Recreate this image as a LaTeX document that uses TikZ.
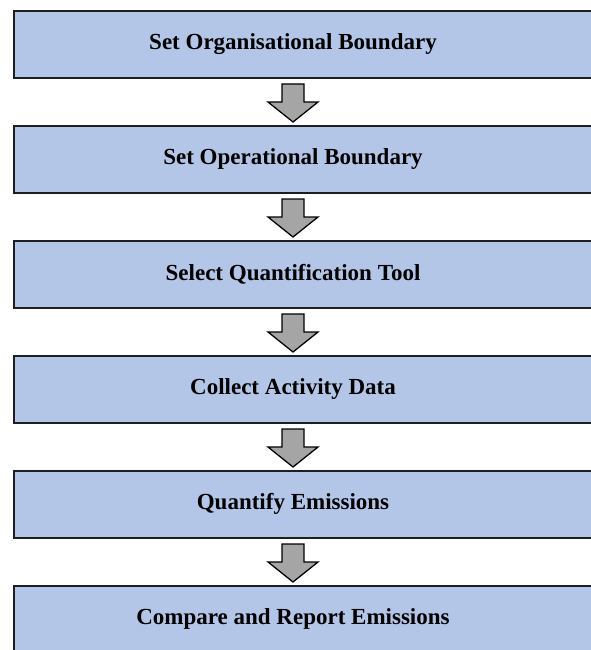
\documentclass[tikz,border=0pt]{standalone}
\usepackage{fontspec}
\setmainfont{Liberation Serif}
\usetikzlibrary{calc}
\definecolor{boxblue}{HTML}{B4C6E7}
\definecolor{arrowgray}{HTML}{A5A5A5}
\definecolor{edgecol}{HTML}{1E1E1E}
\begin{document}
\begin{tikzpicture}[x=1pt,y=-1pt,
  stepbox/.style={draw=edgecol, line width=2pt, fill=boxblue, rectangle,
    minimum width=600pt, minimum height=67pt, anchor=north west, inner sep=0pt},
  lbl/.style={font=\fontsize{23}{27}\selectfont\bfseries, text=black, inner sep=0pt},
  flowarrow/.pic={\draw[draw=black, line width=1.3pt, fill=arrowgray, line join=miter]
    (-11,5) -- (11,5) -- (11,23) -- (25,23) -- (0,43) -- (-25,23) -- (-11,23) -- cycle;}
]
\useasboundingbox (0,0) rectangle (590,650);
\node[stepbox] (b1) at (13,10) {};
\node[stepbox] (b2) at (13,125) {};
\node[stepbox] (b3) at (13,240) {};
\node[stepbox] (b4) at (13,355) {};
\node[stepbox] (b5) at (13,470) {};
\node[stepbox] (b6) at (13,585) {};
\node[lbl] (t1) at (293,44) {Set Organisational Boundary};
\node[lbl] (t2) at (293,159) {Set Operational Boundary};
\node[lbl] (t3) at (293,274) {Select Quantification Tool};
\node[lbl] (t4) at (293,389) {Collect Activity Data};
\node[lbl] (t5) at (293,504) {Quantify Emissions};
\node[lbl] (t6) at (293,619) {Compare and Report Emissions};
\pic at (b1.south -| t1.center) {flowarrow};
\pic at (b2.south -| t2.center) {flowarrow};
\pic at (b3.south -| t3.center) {flowarrow};
\pic at (b4.south -| t4.center) {flowarrow};
\pic at (b5.south -| t5.center) {flowarrow};
\end{tikzpicture}
\end{document}
